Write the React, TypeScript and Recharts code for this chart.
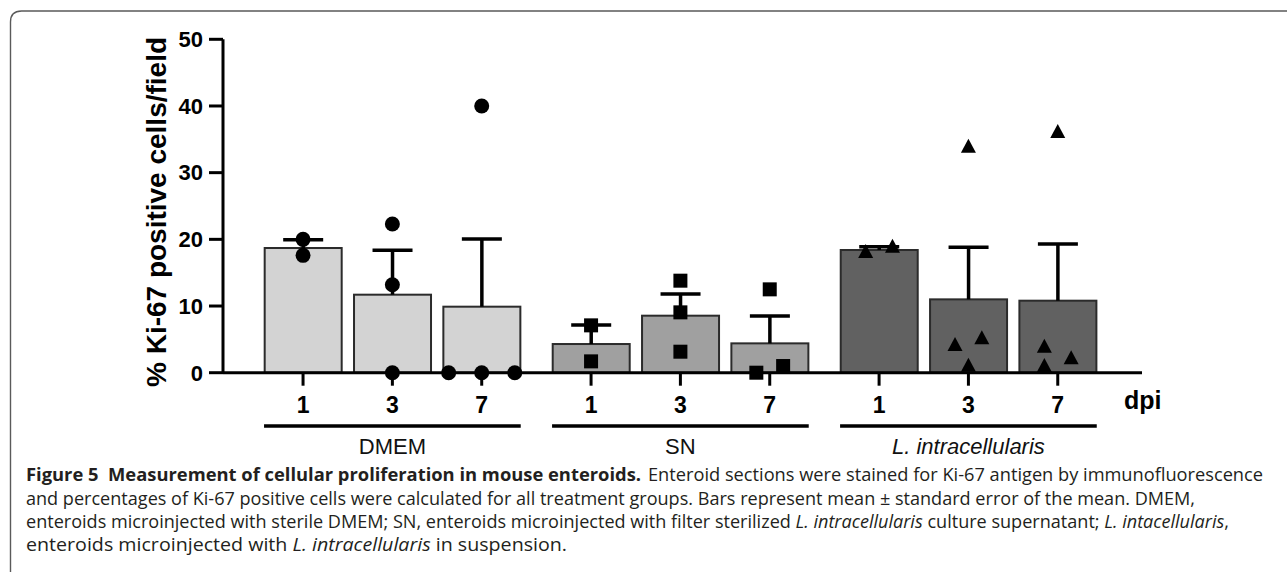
import React from 'react';
import { ComposedChart, Bar, Scatter, XAxis, YAxis } from 'recharts';

// groups and days post infection
const groups = ['DMEM', 'SN', 'L. intracellularis'];
const days = ['1', '3', '7'];

// bar heights (mean) and error (SEM)
const dmemMean = [18.7, 11.7, 9.9];
const dmemSem = [1.25, 6.65, 10.15];
const snMean = [4.3, 8.55, 4.4];
const snSem = [2.85, 3.25, 4.1];
const lawMean = [18.4, 11.0, 10.8];
const lawSem = [0.5, 7.8, 8.5];

// individual enteroid values
const dmemPoints = [[20.0, 17.6], [22.3, 13.2, 0], [40, 0, 0, 0]];
const snPoints = [[7.1, 1.7], [13.8, 9.05, 3.15], [12.5, 0, 1.0]];
const lawPoints = [[18.1, 18.9], [33.9, 4.15, 5.15, 1.05], [36.1, 3.9, 2.15, 1.0]];

const yTicks = [0, 10, 20, 30, 40, 50];

// ---- layout ----
const W = 1287;
const H = 574;
const PLOT_L = 223;
const PLOT_R = 1142;
const PLOT_T = 39.3;
const PLOT_B = 372.7;
const GROUP_GAP = 0.224;
const X_MIN = -0.896;
const X_MAX = 9.391;
const BAR_W = 77;
const FONT = '"Liberation Sans", Arial, sans-serif';
const CAP_FONT = '"Open Sans", "Noto Sans", sans-serif';

const fills = ['#d3d3d3', '#a0a0a0', '#616161'];
const markers = ['circle', 'square', 'triangle'];
// horizontal spread of overlapping points (in bar-slot units)
const JITTER = [
  [[0, 0], [0, 0, 0], [0, -0.37, 0, 0.37]],
  [[0, 0], [0, 0, 0], [0, -0.15, 0.15]],
  [[-0.15, 0.15], [0, -0.15, 0.15, 0], [0, -0.15, 0.15, -0.15]],
];

const slot = (g: number, d: number) => g * (3 + GROUP_GAP) + d;
const toPx = (u: number) => PLOT_L + ((u - X_MIN) * (PLOT_R - PLOT_L)) / (X_MAX - X_MIN);

const means = [dmemMean, snMean, lawMean];
const sems = [dmemSem, snSem, lawSem];
const points = [dmemPoints, snPoints, lawPoints];

const barRows = groups.flatMap((g, gi) =>
  days.map((d, di) => ({
    pos: slot(gi, di),
    mean: means[gi][di],
    sem: sems[gi][di],
    fill: fills[gi],
  }))
);

const scatterData = groups.map((g, gi) =>
  points[gi].flatMap((vals, di) =>
    vals.map((v, k) => ({ pos: slot(gi, di) + JITTER[gi][di][k], value: v }))
  )
);

// bar + one-sided SEM whisker (GraphPad style)
const BarWithSem = (props: any) => {
  const { x, y, width, height, payload } = props;
  const cx = x + width / 2;
  const perUnit = payload.mean > 0 ? height / payload.mean : 0;
  const top = y - payload.sem * perUnit;
  return (
    <g>
      <rect x={cx - BAR_W / 2} y={y} width={BAR_W} height={height} fill={payload.fill} stroke="#2b2b2b" strokeWidth={2} />
      <line x1={cx} y1={y} x2={cx} y2={top} stroke="#000" strokeWidth={3.5} />
      <line x1={cx - 20} y1={top} x2={cx + 20} y2={top} stroke="#000" strokeWidth={3.5} />
    </g>
  );
};

const marker = (kind: string) => (props: any) => {
  const { cx, cy } = props;
  if (kind === 'circle') return <circle cx={cx} cy={cy} r={7.5} fill="#000" />;
  if (kind === 'square') return <rect x={cx - 7} y={cy - 7} width={14} height={14} fill="#000" />;
  return <path d={`M${cx},${cy - 8} L${cx + 7.5},${cy + 6} L${cx - 7.5},${cy + 6} Z`} fill="#000" />;
};

export default function App() {
  const groupSpans = groups.map((g, gi) => ({
    name: g,
    x1: toPx(slot(gi, 0)) - 39,
    x2: toPx(slot(gi, 2)) + 39,
  }));

  return (
    <div style={{ position: 'absolute', left: 0, top: 0, width: W, height: H, background: '#fff' }}>
      <ComposedChart
        width={W}
        height={H}
        data={barRows}
        margin={{ top: PLOT_T, right: W - PLOT_R, bottom: H - PLOT_B - 50, left: PLOT_L - 80 }}
      >
        <XAxis
          type="number"
          dataKey="pos"
          domain={[X_MIN, X_MAX]}
          allowDataOverflow
          ticks={barRows.map((r) => r.pos)}
          interval={0}
          tickFormatter={(v: number, i: number) => days[i % 3]}
          axisLine={{ stroke: '#000', strokeWidth: 3 }}
          tickLine={{ stroke: '#000', strokeWidth: 3 }}
          tickSize={13}
          tickMargin={11}
          tick={{ fill: '#000', fontSize: 23, fontWeight: 700, fontFamily: FONT }}
          height={50}
        />
        <YAxis
          type="number"
          domain={[0, 50]}
          ticks={yTicks}
          interval={0}
          axisLine={{ stroke: '#000', strokeWidth: 3 }}
          tickLine={{ stroke: '#000', strokeWidth: 3 }}
          tickSize={14}
          tickMargin={6}
          tick={{ fill: '#000', fontSize: 22, fontWeight: 700, fontFamily: FONT }}
          width={80}
        />
        <Bar dataKey="mean" shape={BarWithSem} isAnimationActive={false} />
        {scatterData.map((d, gi) => (
          <Scatter
            key={groups[gi]}
            data={d}
            dataKey="value"
            shape={marker(markers[gi])}
            isAnimationActive={false}
          />
        ))}
      </ComposedChart>

      <svg
        width={W}
        height={H}
        style={{ position: 'absolute', left: 0, top: 0, pointerEvents: 'none' }}
      >
        {/* figure frame */}
        <path d="M10.5,572 Q10.5,566 10.5,560 L10.5,22 Q10.5,11 21.5,11 L1287,11" fill="none" stroke="#5a5a5a" strokeWidth={1.4} />

        {/* y axis title */}
        <text
          transform="translate(166,212) rotate(-90)"
          textAnchor="middle"
          fontFamily={FONT}
          fontWeight={700}
          fontSize={27}
          fill="#000"
          textLength={350}
          lengthAdjust="spacingAndGlyphs"
        >
          % Ki-67 positive cells/field
        </text>

        <text x={1124} y={409} fontFamily={FONT} fontWeight={700} fontSize={25} fill="#000">
          dpi
        </text>

        {/* treatment group brackets */}
        {groupSpans.map((s, i) => (
          <g key={s.name}>
            <line x1={s.x1} y1={426} x2={s.x2} y2={426} stroke="#000" strokeWidth={3.5} />
            <text
              x={(s.x1 + s.x2) / 2}
              y={454}
              textAnchor="middle"
              fontFamily={FONT}
              fontSize={22}
              fontStyle={i === 2 ? 'italic' : 'normal'}
              fill="#111"
            >
              {s.name}
            </text>
          </g>
        ))}

        {/* caption */}
        <g fontFamily={CAP_FONT} fontSize={18} fill="#231f20">
          <text x={26} y={481} fontWeight={700} textLength={615} lengthAdjust="spacingAndGlyphs">
            Figure 5{'\u00a0'} Measurement of cellular proliferation in mouse enteroids.
          </text>
          <text x={648} y={481} textLength={615} lengthAdjust="spacingAndGlyphs">
            Enteroid sections were stained for Ki-67 antigen by immunofluorescence
          </text>
          <text x={26} y={504.5} textLength={1169} lengthAdjust="spacingAndGlyphs">
            and percentages of Ki-67 positive cells were calculated for all treatment groups. Bars represent mean ± standard error of the mean. DMEM,
          </text>
          <text x={26} y={528} textLength={1203} lengthAdjust="spacingAndGlyphs">
            enteroids microinjected with sterile DMEM; SN, enteroids microinjected with filter sterilized{' '}
            <tspan fontStyle="italic">L. intracellularis</tspan> culture supernatant;{' '}
            <tspan fontStyle="italic">L. intacellularis</tspan>,
          </text>
          <text x={26} y={551} textLength={541} lengthAdjust="spacingAndGlyphs">
            enteroids microinjected with <tspan fontStyle="italic">L. intracellularis</tspan> in suspension.
          </text>
        </g>
      </svg>
    </div>
  );
}
